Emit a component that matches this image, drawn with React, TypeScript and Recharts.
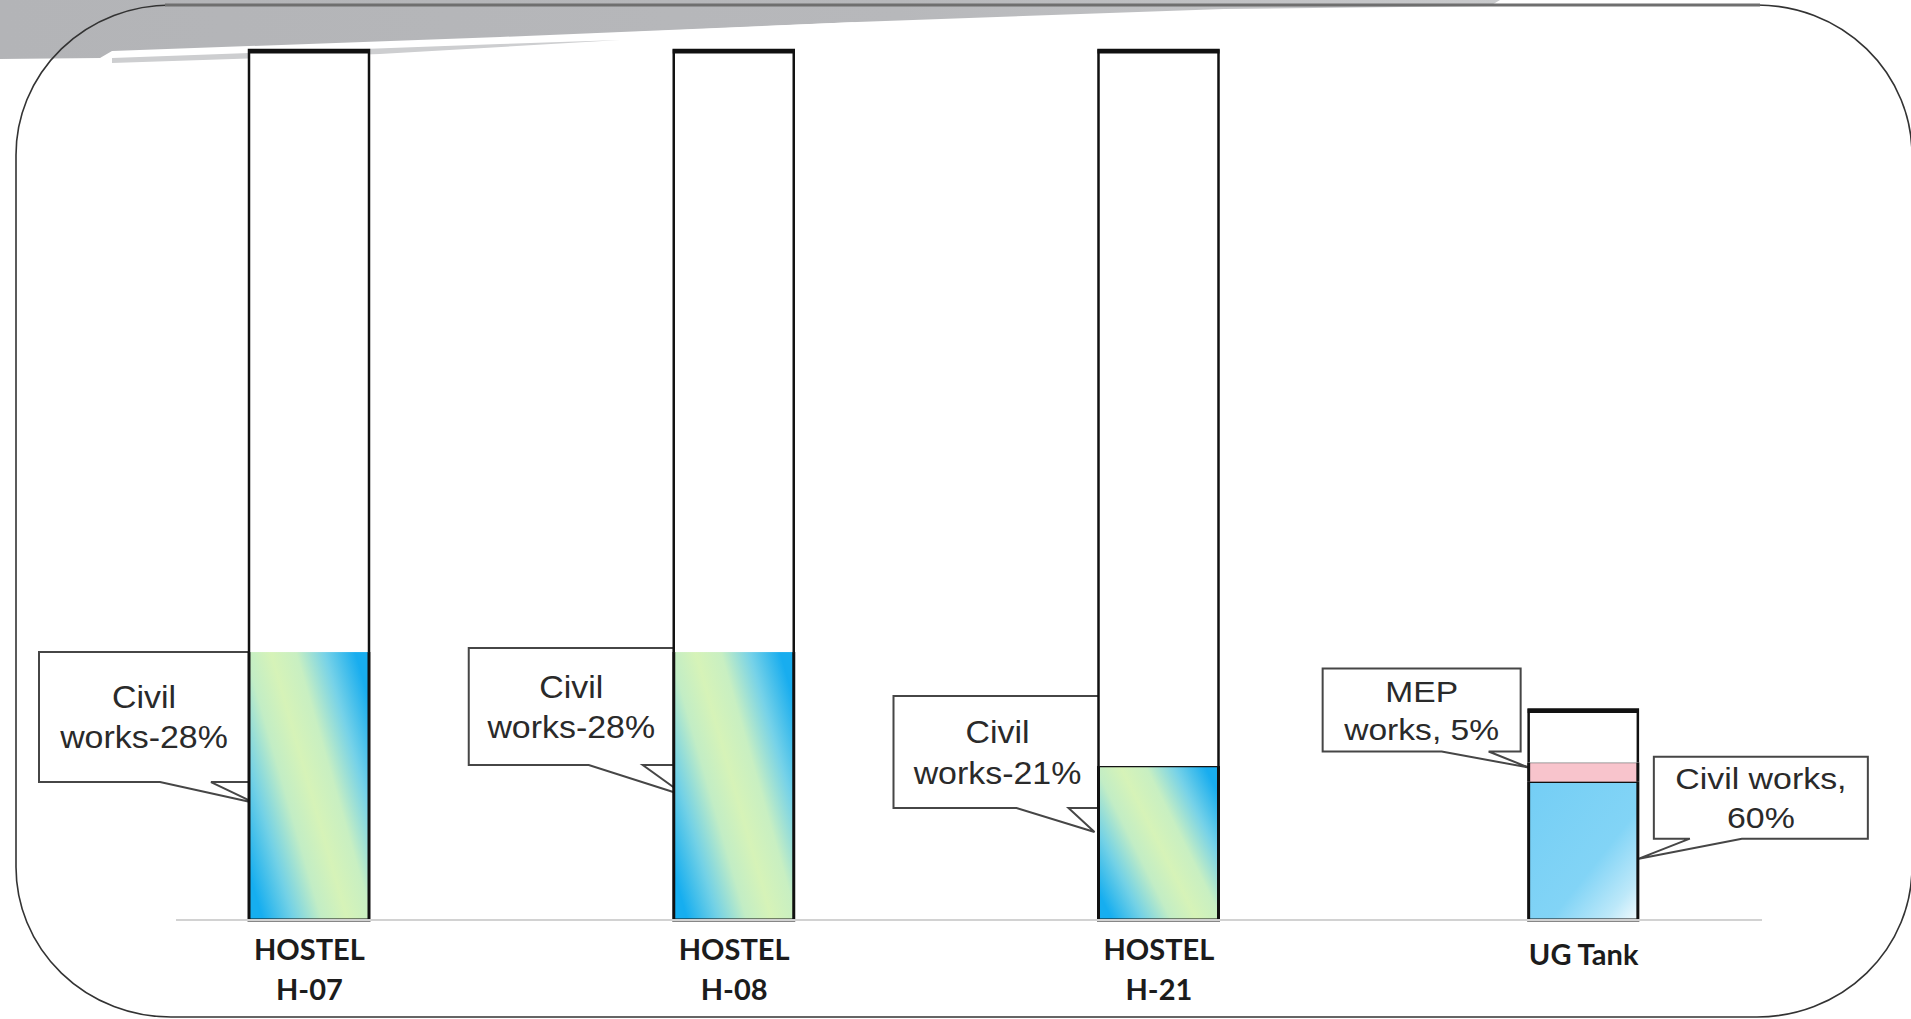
import React from 'react';
import { BarChart, Bar, XAxis, YAxis } from 'recharts';

// ---------- data ----------
const categories = ['HOSTEL H-07', 'HOSTEL H-08', 'HOSTEL H-21', 'UG Tank'];
const tickLabels = [['HOSTEL', 'H-07'], ['HOSTEL', 'H-08'], ['HOSTEL', 'H-21'], ['UG Tank']];
// drawn heights (bar full height = 100)
const civilValues = [30.8, 30.8, 17.7, 15.9];
const mepValues = [0, 0, 0, 2.2];
const remainingValues = [69.2, 69.2, 82.3, 6.1];
const civilCallouts = [
  ['Civil', 'works-28%'],
  ['Civil', 'works-28%'],
  ['Civil', 'works-21%'],
  ['Civil works,', '60%'],
];
const mepCallouts = [null, null, null, ['MEP', 'works, 5%']];

const data = categories.map((name, i) => ({
  name,
  civil: civilValues[i],
  mep: mepValues[i],
  rest: remainingValues[i],
}));

// ---------- styles / layout ----------
const civilFills = ['url(#hostelGrad)', 'url(#hostelGrad)', 'url(#hostelGrad)', 'url(#tankGrad)'];
const civilTopEdge = [false, false, true, true];
const barWidthScale = [1, 1, 1, 0.91];

type CalloutCfg = {
  side: 'left' | 'right';
  edgeGap: number;
  boxW: number;
  boxH: number;
  dy: number;
  near: number;
  far: number;
  tipDx: number;
  tipDy: number;
  fontSize: number;
  lineGap: number;
  scaleX: number;
};

const civilLayout: CalloutCfg[] = [
  { side: 'left', edgeGap: 0, boxW: 210, boxH: 130, dy: 0, near: 38, far: 89, tipDx: 6, tipDy: 21, fontSize: 32, lineGap: 40, scaleX: 1.06 },
  { side: 'left', edgeGap: 0, boxW: 205, boxH: 117, dy: -4, near: 31, far: 85, tipDx: 12, tipDy: 31, fontSize: 32, lineGap: 40, scaleX: 1.06 },
  { side: 'left', edgeGap: -3, boxW: 208, boxH: 112, dy: -70, near: 30, far: 82, tipDx: -4, tipDy: 24, fontSize: 32, lineGap: 41, scaleX: 1.06 },
  { side: 'right', edgeGap: 16, boxW: 214, boxH: 82, dy: -25, near: 52, far: 104, tipDx: 1, tipDy: 20, fontSize: 30, lineGap: 39, scaleX: 1.13 },
];
const mepLayout: (CalloutCfg | null)[] = [
  null,
  null,
  null,
  { side: 'left', edgeGap: 8, boxW: 198, boxH: 83, dy: -94, near: 40, far: 87, tipDx: 0, tipDy: 16, fontSize: 30, lineGap: 38, scaleX: 1.12 },
];

const W = 1911;
const H = 1019;
const TEXT_FONT = "'Liberation Sans', Arial, sans-serif";
const TICK_FONT = "Lato, 'Open Sans', sans-serif";

function geom(props: any) {
  const name = props.payload?.name ?? props.name;
  let i = categories.indexOf(name);
  if (i < 0) i = props.index ?? 0;
  const w = props.width * barWidthScale[i];
  const L = props.x + (props.width - w) / 2;
  return { i, L, R: L + w, w, T: props.y, B: props.y + props.height, h: props.height };
}

function CalloutBox({ L, R, T, cfg, lines }: { L: number; R: number; T: number; cfg: CalloutCfg; lines: string[] }) {
  let x0: number, x1: number, nearX: number, farX: number, tipX: number;
  if (cfg.side === 'left') {
    x1 = L - cfg.edgeGap;
    x0 = x1 - cfg.boxW;
    nearX = L - cfg.near;
    farX = L - cfg.far;
    tipX = L + cfg.tipDx;
  } else {
    x0 = R + cfg.edgeGap;
    x1 = x0 + cfg.boxW;
    nearX = R + cfg.near;
    farX = R + cfg.far;
    tipX = R + cfg.tipDx;
  }
  const y0 = T + cfg.dy;
  const y1 = y0 + cfg.boxH;
  const tipY = y1 + cfg.tipDy;
  const hi = Math.max(nearX, farX);
  const lo = Math.min(nearX, farX);
  const d = `M${x0},${y0} H${x1} V${y1} H${hi} L${tipX},${tipY} L${lo},${y1} H${x0} Z`;
  const cx = (x0 + x1) / 2;
  const cy = (y0 + y1) / 2;
  const cap = cfg.fontSize * 0.716;
  const b1 = cy - cfg.lineGap / 2 + cap / 2;
  return (
    <g>
      <path d={d} fill="#ffffff" stroke="#464646" strokeWidth={2} />
      <g transform={`translate(${cx},0) scale(${cfg.scaleX},1)`}>
        {lines.map((t, k) => (
          <text
            key={k}
            x={0}
            y={b1 + k * cfg.lineGap}
            textAnchor="middle"
            fontFamily={TEXT_FONT}
            fontSize={cfg.fontSize}
            fill="#2a2a2a"
          >
            {t}
          </text>
        ))}
      </g>
    </g>
  );
}

const CivilShape = (props: any) => {
  const g = geom(props);
  if (!(g.h > 0)) return <g />;
  const lines = civilCallouts[g.i];
  return (
    <g>
      {lines && <CalloutBox L={g.L} R={g.R} T={g.T} cfg={civilLayout[g.i]} lines={lines} />}
      <rect x={g.L} y={g.T} width={g.w} height={g.h} fill={civilFills[g.i]} />
      {civilTopEdge[g.i] && <line x1={g.L} x2={g.R} y1={g.T} y2={g.T} stroke="#111" strokeWidth={2.5} />}
      <path d={`M${g.L},${g.T} V${g.B} H${g.R} V${g.T}`} fill="none" stroke="#111" strokeWidth={3} />
    </g>
  );
};

const MepShape = (props: any) => {
  const g = geom(props);
  if (!(g.h > 0)) return <g />;
  const lines = mepCallouts[g.i];
  const cfg = mepLayout[g.i];
  return (
    <g>
      {lines && cfg && <CalloutBox L={g.L} R={g.R} T={g.T} cfg={cfg} lines={lines} />}
      <rect x={g.L} y={g.T} width={g.w} height={g.h} fill="#f8c4cc" />
      <line x1={g.L} x2={g.R} y1={g.T} y2={g.T} stroke="#7a7a7a" strokeWidth={1.5} />
      <path d={`M${g.L},${g.T} V${g.B} M${g.R},${g.T} V${g.B}`} fill="none" stroke="#111" strokeWidth={3} />
    </g>
  );
};

const RestShape = (props: any) => {
  const g = geom(props);
  if (!(g.h > 0)) return <g />;
  return (
    <g>
      <rect x={g.L} y={g.T} width={g.w} height={g.h} fill="#ffffff" />
      <path d={`M${g.L},${g.B} V${g.T} H${g.R} V${g.B}`} fill="none" stroke="#111" strokeWidth={2.5} />
      <line x1={g.L - 1} x2={g.R + 1} y1={g.T + 1.5} y2={g.T + 1.5} stroke="#111" strokeWidth={4} />
    </g>
  );
};

const CategoryTick = (props: any) => {
  const { x, y, payload } = props;
  let i = categories.indexOf(payload?.value);
  if (i < 0) i = payload?.index ?? 0;
  const lines = tickLabels[i];
  return (
    <g>
      {lines.map((t, k) => (
        <text
          key={k}
          x={x}
          y={y + (lines.length === 1 ? 45 : 40 + k * 40)}
          textAnchor="middle"
          fontFamily={TICK_FONT}
          fontWeight={700}
          fontSize={29}
          fill="#1c1c1c"
        >
          {t}
        </text>
      ))}
    </g>
  );
};

function Decoration() {
  return (
    <svg width={W} height={H} style={{ position: 'absolute', left: 0, top: 0 }}>
      <defs>
        <linearGradient id="bandGrad" x1="0" y1="0" x2="1" y2="0">
          <stop offset="0" stopColor="#b3b4b7" />
          <stop offset="0.6" stopColor="#b7b8bb" />
          <stop offset="1" stopColor="#c9cacc" />
        </linearGradient>
      </defs>
      <polygon
        points="0,0 1500,0 1490,6 1224,9 857,22 500,37 112,51 100,58 0,59"
        fill="url(#bandGrad)"
      />
      <polygon points="112,52 500,38 857,22 830,28 500,44 112,58" fill="#ffffff" />
      <polygon points="112,58 500,44 620,40 380,54 112,63" fill="#cdced0" />
      <rect
        x={16}
        y={5}
        width={1896}
        height={1012}
        rx={155}
        ry={150}
        fill="none"
        stroke="#333"
        strokeWidth={1.6}
      />
      <line x1={165} x2={1760} y1={5} y2={5} stroke="#6f6f6f" strokeWidth={3} />
    </svg>
  );
}

export default function App() {
  return (
    <div style={{ position: 'relative', width: W, height: H, overflow: 'hidden', background: '#ffffff' }}>
      <style>{'body{margin:0;overflow:hidden;}'}</style>
      <Decoration />
      <div style={{ position: 'absolute', left: 0, top: 0 }}>
        <BarChart
          width={W}
          height={H}
          data={data}
          margin={{ top: 50, right: 149, bottom: 0, left: 176 }}
        >
          <defs>
            <linearGradient id="hostelGrad" x1="0" y1="0.82" x2="1" y2="0.18">
              <stop offset="0" stopColor="#16aef0" />
              <stop offset="0.18" stopColor="#72d1e6" />
              <stop offset="0.35" stopColor="#c2edc5" />
              <stop offset="0.5" stopColor="#d6f3b8" />
              <stop offset="0.65" stopColor="#c8efc2" />
              <stop offset="0.82" stopColor="#76d2e8" />
              <stop offset="1" stopColor="#18adef" />
            </linearGradient>
            <linearGradient id="tankGrad" x1="0" y1="0" x2="1" y2="1">
              <stop offset="0" stopColor="#74cef5" />
              <stop offset="0.6" stopColor="#82d4f6" />
              <stop offset="0.85" stopColor="#bce8f9" />
              <stop offset="1" stopColor="#f2fbfe" />
            </linearGradient>
          </defs>
          <XAxis
            dataKey="name"
            type="category"
            interval={0}
            height={99}
            padding={{ left: -79, right: -34 }}
            axisLine={{ stroke: '#d2d2d2', strokeWidth: 2 }}
            tickLine={false}
            tickSize={0}
            tickMargin={0}
            tick={CategoryTick}
          />
          <YAxis hide domain={[0, 100]} type="number" />
          <Bar dataKey="civil" stackId="s" barSize={120} isAnimationActive={false} shape={CivilShape} />
          <Bar dataKey="mep" stackId="s" barSize={120} isAnimationActive={false} shape={MepShape} />
          <Bar dataKey="rest" stackId="s" barSize={120} isAnimationActive={false} shape={RestShape} />
        </BarChart>
      </div>
    </div>
  );
}
